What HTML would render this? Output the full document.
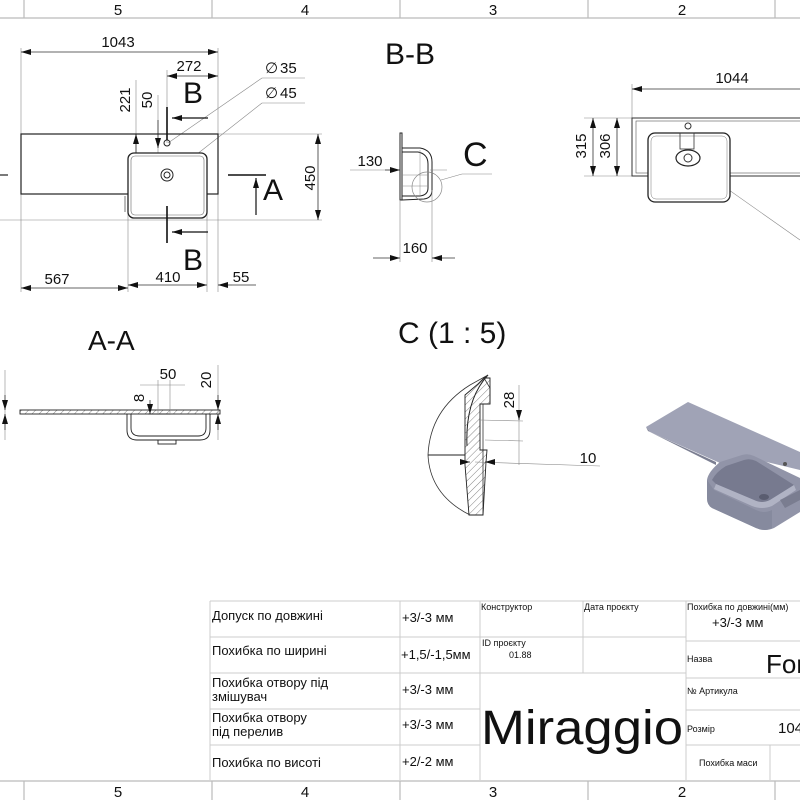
<!DOCTYPE html>
<html><head><meta charset="utf-8"><style>
html,body{margin:0;padding:0;background:#fff;width:800px;height:800px;overflow:hidden}
svg{display:block}
text{font-family:"Liberation Sans",sans-serif;fill:#111}
.t{font-family:"DejaVu Sans Condensed","DejaVu Sans","Liberation Sans",sans-serif;font-size:13px}
.s{font-family:"DejaVu Sans Condensed","DejaVu Sans",sans-serif;font-size:9px}
</style></head><body>
<svg width="800" height="800" viewBox="0 0 800 800" xmlns="http://www.w3.org/2000/svg">
<defs>
<marker id="a" viewBox="0 0 10 6" refX="10" refY="3" markerWidth="10" markerHeight="6" orient="auto-start-reverse" markerUnits="userSpaceOnUse"><path d="M0,0L10,3L0,6z" fill="#111"/></marker>
<pattern id="h" width="5" height="5" patternUnits="userSpaceOnUse" patternTransform="rotate(45)"><line x1="0" y1="0" x2="0" y2="5" stroke="#333" stroke-width="0.6"/></pattern>
</defs>
<g stroke="#bbb" stroke-width="1.2" fill="none">
<line x1="0" y1="18" x2="800" y2="18"/>
<line x1="24" y1="0" x2="24" y2="18"/><line x1="212" y1="0" x2="212" y2="18"/><line x1="400" y1="0" x2="400" y2="18"/><line x1="588" y1="0" x2="588" y2="18"/><line x1="775" y1="0" x2="775" y2="18"/>
<line x1="0" y1="781" x2="800" y2="781"/>
<line x1="24" y1="781" x2="24" y2="800"/><line x1="212" y1="781" x2="212" y2="800"/><line x1="400" y1="781" x2="400" y2="800"/><line x1="588" y1="781" x2="588" y2="800"/><line x1="775" y1="781" x2="775" y2="800"/>
</g>
<g font-size="15" text-anchor="middle">
<text x="118" y="15">5</text><text x="305" y="15">4</text><text x="493" y="15">3</text><text x="682" y="15">2</text>
<text x="118" y="797">5</text><text x="305" y="797">4</text><text x="493" y="797">3</text><text x="682" y="797">2</text>
</g>

<!-- TOP VIEW -->
<g stroke="#888" stroke-width="0.6" fill="none">
<line x1="21" y1="48" x2="21" y2="292"/><line x1="218" y1="48" x2="218" y2="292"/>
<line x1="128" y1="200" x2="128" y2="292"/><line x1="207" y1="200" x2="207" y2="292"/>
<line x1="0" y1="220" x2="322" y2="220"/>
<line x1="218" y1="134" x2="322" y2="134"/>
<line x1="167" y1="70" x2="167" y2="143"/>
<line x1="136" y1="80" x2="136" y2="200"/>
<line x1="158" y1="95" x2="158" y2="160"/>
<line x1="305" y1="78" x2="262" y2="78"/><line x1="262" y1="78" x2="168" y2="143"/>
<line x1="305" y1="103" x2="262" y2="103"/><line x1="262" y1="103" x2="145" y2="195"/>
</g>
<g stroke="#333" stroke-width="0.8" fill="none">
<line x1="21" y1="52" x2="218" y2="52" marker-start="url(#a)" marker-end="url(#a)"/>
<line x1="167" y1="76" x2="218" y2="76" marker-start="url(#a)" marker-end="url(#a)"/>
<line x1="21" y1="288" x2="128" y2="288" marker-start="url(#a)" marker-end="url(#a)"/>
<line x1="128" y1="285" x2="207" y2="285" marker-start="url(#a)" marker-end="url(#a)"/>
<line x1="232" y1="285" x2="218" y2="285" marker-end="url(#a)"/>
<line x1="232" y1="285" x2="256" y2="285"/>
<line x1="318" y1="134" x2="318" y2="220" marker-start="url(#a)" marker-end="url(#a)"/>
<line x1="136" y1="134" x2="136" y2="178" marker-start="url(#a)" marker-end="url(#a)"/>
<line x1="158" y1="120" x2="158" y2="148" marker-end="url(#a)"/>
</g>
<rect x="21" y="134" width="197" height="60" fill="none" stroke="#222" stroke-width="1.2"/>
<rect x="128" y="153" width="79" height="65" rx="6" fill="#fff" stroke="#222" stroke-width="1.3"/>
<rect x="131" y="156" width="73" height="59" rx="4" fill="none" stroke="#666" stroke-width="0.6"/>
<line x1="125" y1="196" x2="125" y2="212" stroke="#555" stroke-width="0.8"/>
<circle cx="167" cy="175" r="6" fill="none" stroke="#222"/><circle cx="167" cy="175" r="3" fill="none" stroke="#222"/>
<circle cx="167" cy="143" r="3" fill="none" stroke="#222"/>
<g stroke="#111" stroke-width="1.6" fill="none">
<line x1="167" y1="107" x2="167" y2="140"/><line x1="167" y1="206" x2="167" y2="243"/>
<line x1="228" y1="175" x2="266" y2="175"/>
</g>
<g stroke="#111" stroke-width="1.2">
<line x1="208" y1="118" x2="172" y2="118" marker-end="url(#a)"/>
<line x1="208" y1="232" x2="172" y2="232" marker-end="url(#a)"/>
<line x1="256" y1="215" x2="256" y2="178" marker-end="url(#a)"/>
</g>
<line x1="0" y1="175" x2="8" y2="175" stroke="#222" stroke-width="1.2"/>
<g font-size="15">
<text x="118" y="47" text-anchor="middle">1043</text>
<text x="189" y="71" text-anchor="middle">272</text>
<text x="57" y="284" text-anchor="middle">567</text>
<text x="168" y="282" text-anchor="middle">410</text>
<text x="241" y="282" text-anchor="middle">55</text>
<text x="280" y="73">35</text><text x="280" y="98">45</text>
<text x="265" y="73" fill="#888">∅</text><text x="265" y="98" fill="#888">∅</text>
<text transform="translate(130,100) rotate(-90)" text-anchor="middle">221</text>
<text transform="translate(152,100) rotate(-90)" text-anchor="middle">50</text>
<text transform="translate(315,178) rotate(-90)" text-anchor="middle">450</text>
</g>
<g font-size="30">
<text x="183" y="103">B</text><text x="183" y="270">B</text><text x="263" y="200">A</text>
<text x="385" y="64">B-B</text>
</g>

<!-- B-B section -->
<g stroke="#222" stroke-width="1" fill="none">
<path d="M400,133 L400,200 L402,200 L402,133 Z"/>
<path d="M402,148 L420,148 Q432,150 432,162 L432,190 Q432,198 424,199 L402,200"/>
<path d="M402,152 L418,152 Q428,154 428,164 L428,188 Q428,195 420,196 L402,196"/>
<line x1="402" y1="175" x2="428" y2="175" stroke="#888" stroke-width="0.5"/>
<line x1="402" y1="186" x2="428" y2="186" stroke="#888" stroke-width="0.5"/>
<line x1="420" y1="150" x2="420" y2="196" stroke="#888" stroke-width="0.5"/>
</g>
<circle cx="427" cy="187" r="15" fill="none" stroke="#888" stroke-width="0.7"/>
<line x1="441" y1="180" x2="462" y2="174" stroke="#888" stroke-width="0.6"/><line x1="462" y1="174" x2="492" y2="174" stroke="#888" stroke-width="0.6"/>
<g stroke="#888" stroke-width="0.6"><line x1="400" y1="200" x2="400" y2="262"/><line x1="432" y1="190" x2="432" y2="262"/>
<line x1="350" y1="170" x2="400" y2="170"/><line x1="430" y1="170" x2="447" y2="170"/></g>
<g stroke="#333" stroke-width="0.8"><line x1="373" y1="258" x2="400" y2="258" marker-end="url(#a)"/><line x1="455" y1="258" x2="432" y2="258" marker-end="url(#a)"/>
<line x1="385" y1="170" x2="400" y2="170" marker-end="url(#a)"/></g>
<text x="370" y="166" font-size="15" text-anchor="middle">130</text>
<text x="415" y="253" font-size="15" text-anchor="middle">160</text>
<text x="463" y="166" font-size="34">C</text>

<!-- right top view -->
<g stroke="#888" stroke-width="0.6" fill="none">
<line x1="632" y1="84" x2="632" y2="176"/><line x1="584" y1="118" x2="632" y2="118"/><line x1="584" y1="176" x2="632" y2="176"/>
<line x1="658" y1="140" x2="800" y2="240"/>
</g>
<g stroke="#333" stroke-width="0.8"><line x1="632" y1="89" x2="800" y2="89" marker-start="url(#a)"/>
<line x1="593" y1="118" x2="593" y2="176" marker-start="url(#a)" marker-end="url(#a)"/>
<line x1="617" y1="118" x2="617" y2="176" marker-start="url(#a)" marker-end="url(#a)"/></g>
<rect x="632" y="118" width="180" height="58" fill="none" stroke="#333" stroke-width="1"/>
<rect x="636" y="121" width="176" height="52" fill="none" stroke="#555" stroke-width="0.6"/>
<rect x="648" y="133" width="82" height="69" rx="7" fill="#fff" stroke="#222" stroke-width="1.3"/>
<rect x="651" y="136" width="76" height="63" rx="5" fill="none" stroke="#777" stroke-width="0.5"/>
<rect x="680" y="133" width="14" height="16" fill="none" stroke="#333" stroke-width="0.8"/>
<circle cx="688" cy="126" r="3" fill="none" stroke="#333"/>
<ellipse cx="688" cy="158" rx="12" ry="8" fill="#fff" stroke="#222" stroke-width="1.2"/><ellipse cx="688" cy="158" rx="4" ry="4" fill="none" stroke="#333"/>
<text x="732" y="83" font-size="15" text-anchor="middle">1044</text>
<text transform="translate(586,146) rotate(-90)" font-size="15" text-anchor="middle">315</text>
<text transform="translate(610,146) rotate(-90)" font-size="15" text-anchor="middle">306</text>

<!-- A-A -->
<text x="88" y="350" font-size="28">A-A</text>
<g stroke="#222" stroke-width="0.9" fill="none">
<rect x="20" y="410" width="200" height="4" fill="url(#h)"/>
<path d="M127,414 L127,430 Q127,440 137,440 L200,440 Q210,440 210,430 L210,414"/>
<path d="M131,414 L131,428 Q131,436 140,436 L198,436 Q206,436 206,428 L206,414"/>
<rect x="158" y="440" width="18" height="4"/>
<line x1="148" y1="414" x2="170" y2="414"/>
</g>
<g stroke="#888" stroke-width="0.6"><line x1="5" y1="370" x2="5" y2="440"/><line x1="218" y1="365" x2="218" y2="440"/>
<line x1="158" y1="380" x2="158" y2="415"/><line x1="170" y1="380" x2="170" y2="415"/><line x1="140" y1="385" x2="185" y2="385"/></g>
<g stroke="#333" stroke-width="0.8"><line x1="5" y1="395" x2="5" y2="410" marker-end="url(#a)"/><line x1="5" y1="430" x2="5" y2="414" marker-end="url(#a)"/>
<line x1="218" y1="395" x2="218" y2="410" marker-end="url(#a)"/><line x1="218" y1="430" x2="218" y2="414" marker-end="url(#a)"/>
<line x1="150" y1="400" x2="150" y2="414" marker-end="url(#a)"/></g>
<text x="168" y="379" font-size="15" text-anchor="middle">50</text>
<text transform="translate(211,380) rotate(-90)" font-size="15" text-anchor="middle">20</text>
<text transform="translate(144,398) rotate(-90)" font-size="15" text-anchor="middle">8</text>

<!-- C detail -->
<text x="398" y="343" font-size="30">C (1 : 5)</text>
<path d="M467,446 Q465,400 488,375" fill="none" stroke="#222"/>
<path d="M488,375 L470,385 Q430,410 428,455 Q430,495 470,515 L483,515 L483,404 L490,404 L490,388 L484,378 Z" fill="none" stroke="#333" stroke-width="0.8"/>
<path d="M465,395 L478,384 L484,378 L490,378 L490,404 L480,404 L480,450 L487,450 L486,462 L483,515 L469,515 L465,465 Z" fill="url(#h)" stroke="#222" stroke-width="0.9"/>
<line x1="428" y1="455" x2="465" y2="455" stroke="#222"/>
<g stroke="#888" stroke-width="0.6"><line x1="519" y1="385" x2="519" y2="465"/><line x1="480" y1="420" x2="523" y2="421"/><line x1="485" y1="440" x2="523" y2="441"/><line x1="475" y1="462" x2="600" y2="466"/></g>
<g stroke="#333" stroke-width="0.8"><line x1="519" y1="410" x2="519" y2="420" marker-end="url(#a)"/><line x1="463" y1="462" x2="470" y2="462" marker-end="url(#a)"/><line x1="493" y1="462" x2="485" y2="462" marker-end="url(#a)"/></g>
<text transform="translate(514,400) rotate(-90)" font-size="15" text-anchor="middle">28</text>
<text x="588" y="463" font-size="15" text-anchor="middle">10</text>

<!-- 3D -->
<polygon points="646,427 688,402 800,452 800,470 750,458 720,463 650,432" fill="#a0a3b6"/>
<polygon points="646,427 650,432 716,462 716,465 648,431" fill="#7c7f92"/>
<path d="M707,480 Q708,472 720,462 L742,455 Q748,453 754,456 L800,478 L800,512 L774,528 Q765,532 756,528 L712,508 Q707,505 707,498 Z" fill="#9194a8"/>
<path d="M707,480 L707,498 Q707,505 712,508 L756,528 Q765,532 772,528 L772,510 Q764,514 756,510 L714,490 Z" fill="#868a9e"/>
<path d="M712,480 Q716,472 726,466 L744,460 Q750,458 756,461 L794,485 L770,500 Q762,504 754,500 L716,484 Z" fill="#777a8f"/>
<path d="M716,484 L754,500 Q762,504 770,500 L794,485 L796,490 L772,506 Q762,510 752,506 L714,489 Z" fill="#b0b3c4"/>
<ellipse cx="764" cy="497" rx="5" ry="3" fill="#5a5d70"/>
<circle cx="785" cy="464" r="2" fill="#555"/>
<polygon points="780,500 800,490 800,500 785,508" fill="#7a7d90"/>

<!-- TABLE -->
<g stroke="#ccc" stroke-width="1" fill="none">
<line x1="210" y1="601" x2="800" y2="601"/>
<line x1="210" y1="601" x2="210" y2="780"/>
<line x1="400" y1="601" x2="400" y2="780"/>
<line x1="480" y1="601" x2="480" y2="780"/>
<line x1="583" y1="601" x2="583" y2="673"/>
<line x1="686" y1="601" x2="686" y2="780"/>
<line x1="210" y1="637" x2="686" y2="637"/>
<line x1="210" y1="673" x2="686" y2="673"/>
<line x1="210" y1="709" x2="480" y2="709"/>
<line x1="210" y1="745" x2="480" y2="745"/>
<line x1="686" y1="641" x2="800" y2="641"/><line x1="686" y1="678" x2="800" y2="678"/>
<line x1="686" y1="710" x2="800" y2="710"/><line x1="686" y1="745" x2="800" y2="745"/>
<line x1="770" y1="745" x2="770" y2="780"/>
</g>
<g class="t">
<text x="212" y="620">Допуск по довжині</text>
<text x="212" y="655">Похибка по ширині</text>
<text x="212" y="687">Похибка отвору під</text>
<text x="212" y="701">змішувач</text>
<text x="212" y="722">Похибка отвору</text>
<text x="212" y="736">під перелив</text>
<text x="212" y="767">Похибка по висоті</text>
<text x="402" y="622">+3/-3 мм</text>
<text x="401" y="659">+1,5/-1,5мм</text>
<text x="402" y="694">+3/-3 мм</text>
<text x="402" y="729">+3/-3 мм</text>
<text x="402" y="766">+2/-2 мм</text>
<text x="712" y="627">+3/-3 мм</text>
</g>
<g class="s">
<text x="481" y="610">Конструктор</text>
<text x="584" y="610">Дата проєкту</text>
<text x="482" y="646">ID проєкту</text>
<text x="509" y="658">01.88</text>
<text x="687" y="610">Похибка по довжині(мм)</text>
<text x="687" y="662">Назва</text>
<text x="687" y="694">№ Артикула</text>
<text x="687" y="732">Розмір</text>
<text x="699" y="766">Похибка маси</text>
</g>
<text x="481" y="744" font-family="'DejaVu Sans Condensed','DejaVu Sans',sans-serif" font-size="48" textLength="202" lengthAdjust="spacingAndGlyphs">Miraggio</text>
<text x="766" y="673" font-family="'DejaVu Sans Condensed','DejaVu Sans',sans-serif" font-size="26">For</text>
<text x="778" y="733" font-family="'DejaVu Sans Condensed','DejaVu Sans',sans-serif" font-size="15">104</text>
</svg>
</body></html>
